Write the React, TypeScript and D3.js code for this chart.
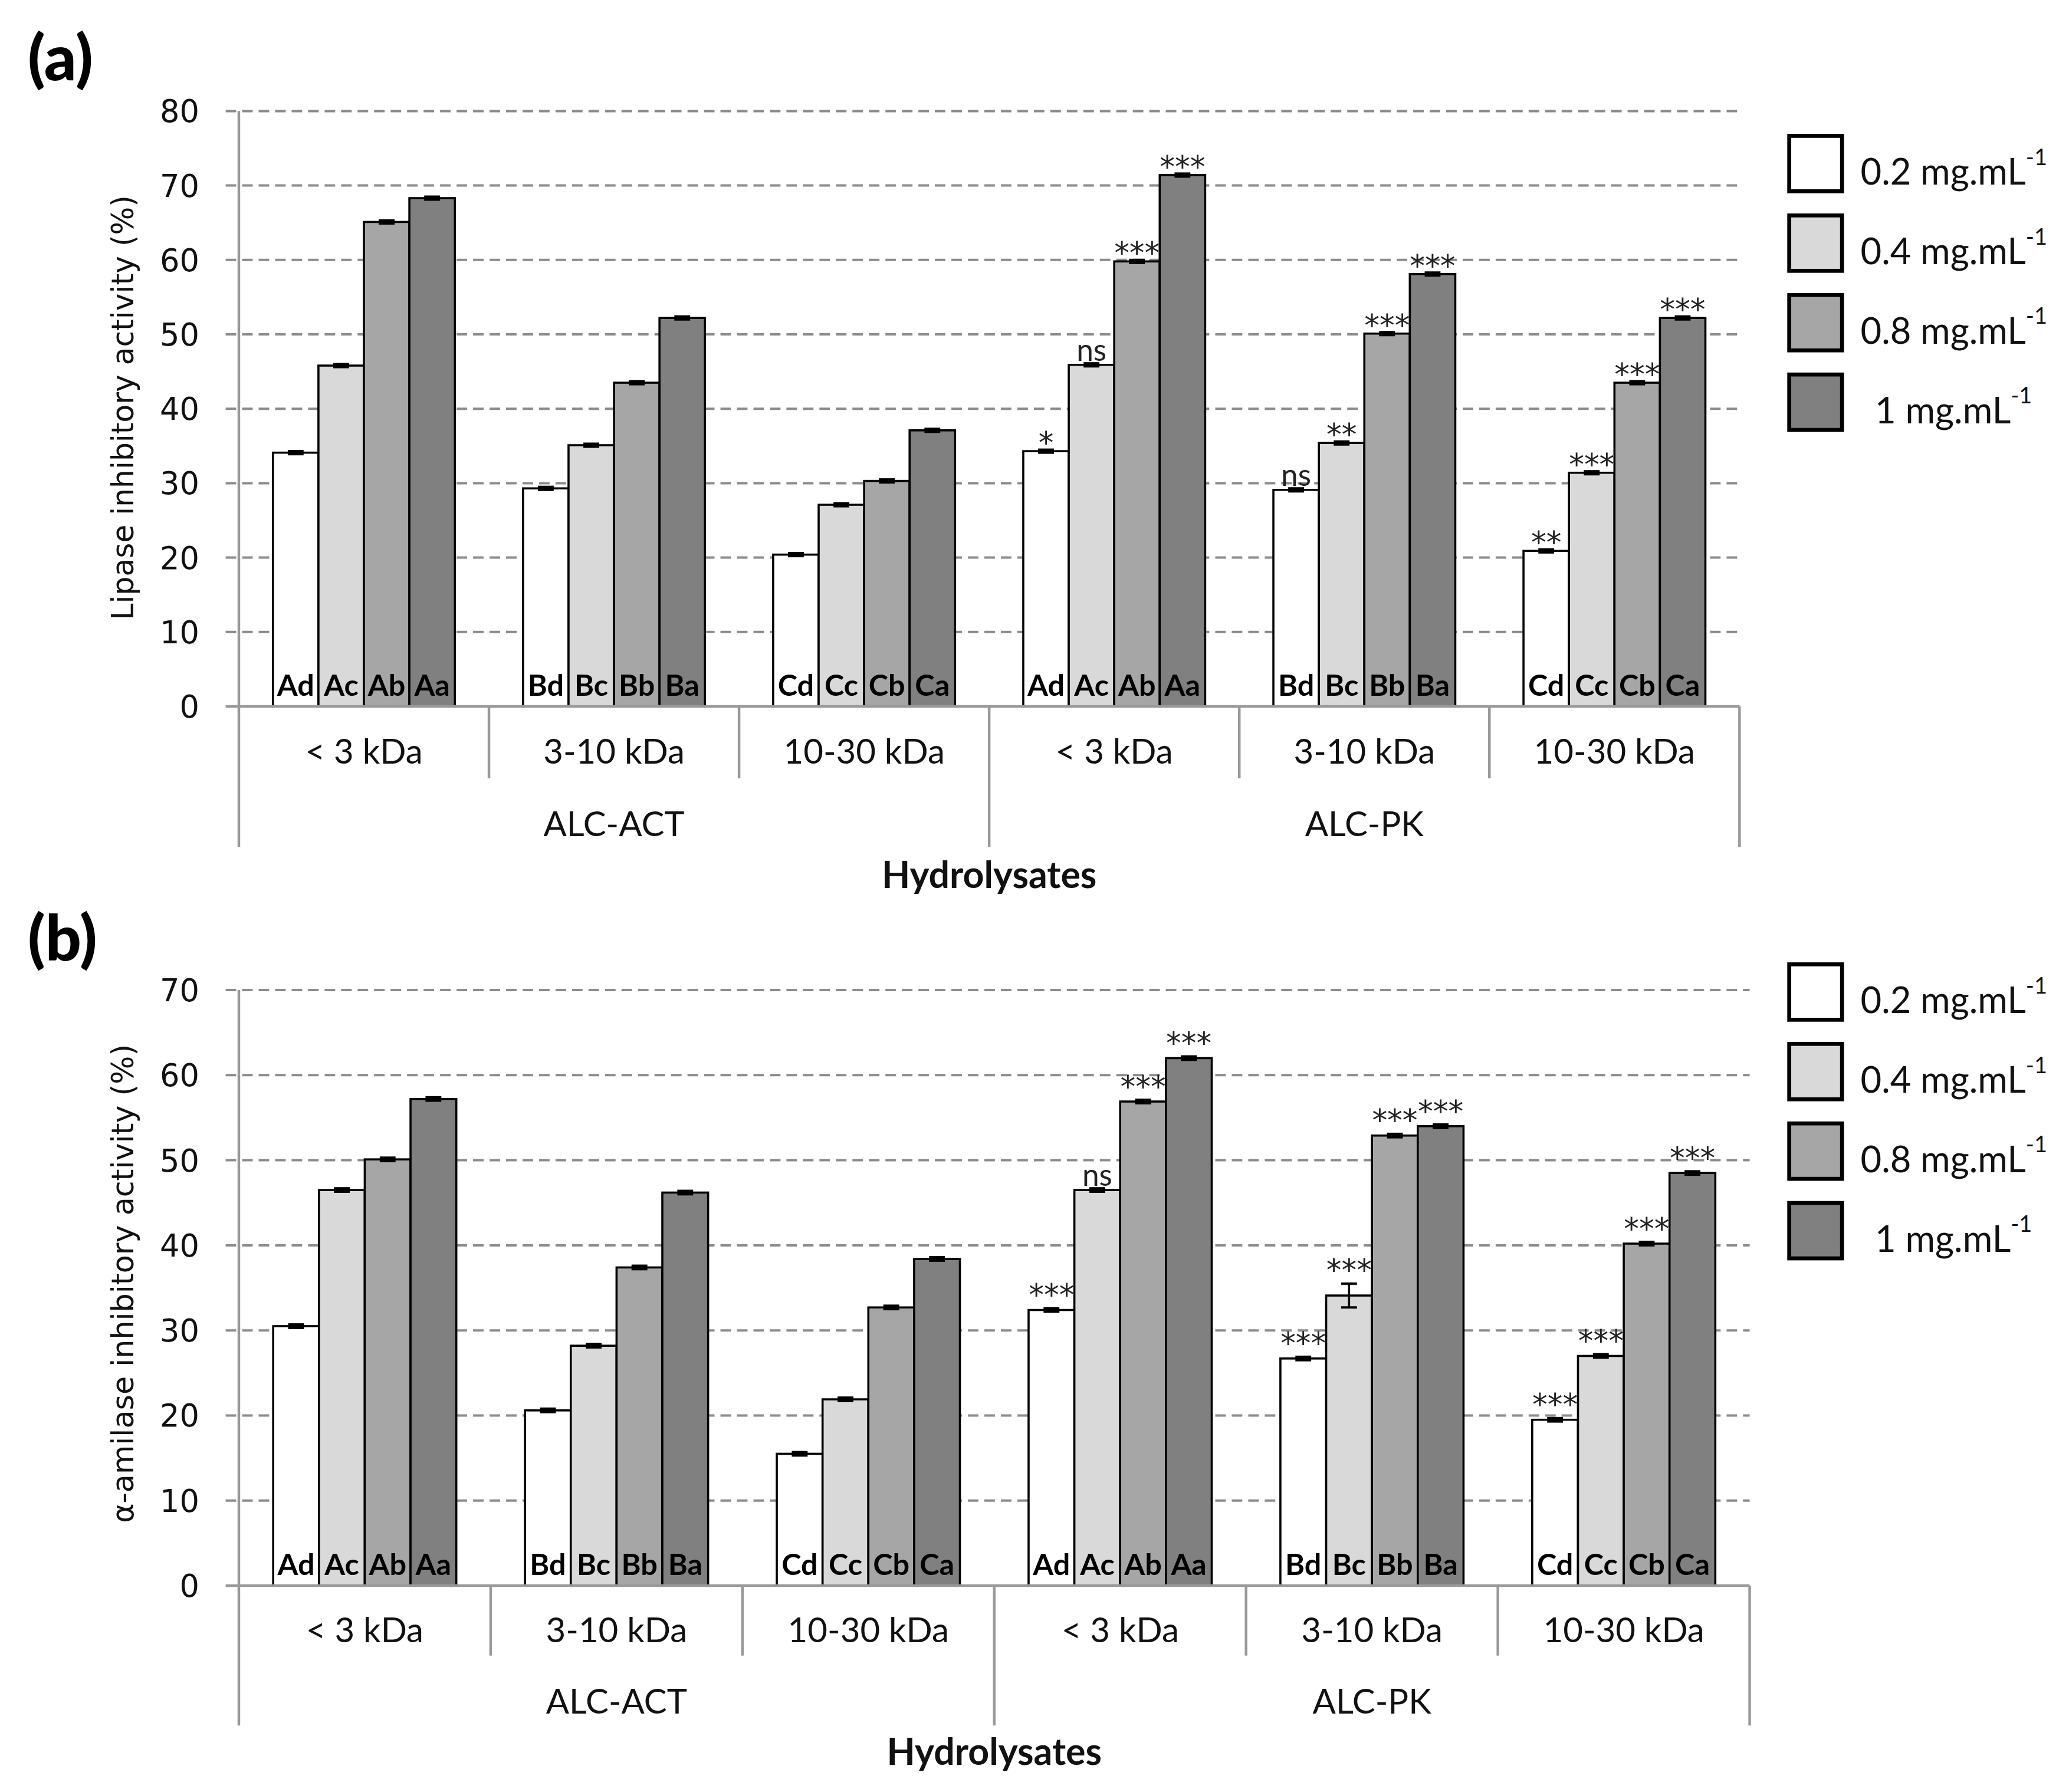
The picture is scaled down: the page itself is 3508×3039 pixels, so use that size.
import React from "react";
import * as d3 from "d3";

// ---------- data ----------
const categories = ["< 3 kDa", "3-10 kDa", "10-30 kDa", "< 3 kDa", "3-10 kDa", "10-30 kDa"];
const hydrolysates = ["ALC-ACT", "ALC-PK"];
const concentrations = ["0.2", "0.4", "0.8", "1"];
const seriesColors = ["#ffffff", "#d9d9d9", "#a6a6a6", "#808080"];

const barLetters = [
  ["Ad", "Ac", "Ab", "Aa"],
  ["Bd", "Bc", "Bb", "Ba"],
  ["Cd", "Cc", "Cb", "Ca"],
  ["Ad", "Ac", "Ab", "Aa"],
  ["Bd", "Bc", "Bb", "Ba"],
  ["Cd", "Cc", "Cb", "Ca"],
];

const lipaseTicks = [0, 10, 20, 30, 40, 50, 60, 70, 80];
const lipaseValues = [
  [34.1, 45.8, 65.1, 68.3],
  [29.3, 35.1, 43.5, 52.2],
  [20.4, 27.1, 30.3, 37.1],
  [34.3, 45.9, 59.8, 71.4],
  [29.1, 35.4, 50.1, 58.1],
  [20.9, 31.4, 43.5, 52.2],
];
const lipaseErrors = [
  [0.2, 0.2, 0.2, 0.2],
  [0.2, 0.2, 0.2, 0.2],
  [0.2, 0.2, 0.2, 0.2],
  [0.2, 0.2, 0.2, 0.2],
  [0.2, 0.2, 0.2, 0.2],
  [0.2, 0.2, 0.2, 0.2],
];
const lipaseSig = [
  ["", "", "", ""],
  ["", "", "", ""],
  ["", "", "", ""],
  ["*", "ns", "***", "***"],
  ["ns", "**", "***", "***"],
  ["**", "***", "***", "***"],
];

const amylaseTicks = [0, 10, 20, 30, 40, 50, 60, 70];
const amylaseValues = [
  [30.5, 46.5, 50.1, 57.2],
  [20.6, 28.2, 37.4, 46.2],
  [15.5, 21.9, 32.7, 38.4],
  [32.4, 46.5, 56.9, 62.0],
  [26.7, 34.1, 52.9, 54.0],
  [19.5, 27.0, 40.2, 48.5],
];
const amylaseErrors = [
  [0.2, 0.2, 0.2, 0.2],
  [0.2, 0.2, 0.2, 0.2],
  [0.2, 0.2, 0.2, 0.2],
  [0.2, 0.2, 0.2, 0.2],
  [0.2, 1.4, 0.2, 0.2],
  [0.2, 0.2, 0.2, 0.2],
];
const amylaseSig = [
  ["", "", "", ""],
  ["", "", "", ""],
  ["", "", "", ""],
  ["***", "ns", "***", "***"],
  ["***", "***", "***", "***"],
  ["***", "***", "***", "***"],
];

// ---------- styles ----------
const AXIS = "#999999";
const GRID = "#8c8c8c";
const TICK_FONT = "'DejaVu Sans', Verdana, sans-serif";
const LABEL_FONT = "Lato, 'Open Sans', sans-serif";

type PanelProps = {
  label: string;
  labelY: number;
  yTitle: string;
  yTitleLen: number;
  yTitleY: number;
  ticks: number[];
  values: number[][];
  errors: number[][];
  sig: string[][];
  starShift: number;
  yTop: number;
  yZero: number;
  xLeft: number;
  xRight: number;
  catY: number;
  groupY: number;
  hydroY: number;
  innerBottom: number;
  outerBottom: number;
  legendTop: number;
};

function Panel(p: PanelProps) {
  const yMax = p.ticks[p.ticks.length - 1];
  const y = d3.scaleLinear().domain([0, yMax]).range([p.yZero, p.yTop]);
  const xCat = d3
    .scaleBand<number>()
    .domain(d3.range(categories.length))
    .range([p.xLeft, p.xRight])
    .paddingInner(0)
    .paddingOuter(0);
  const xSer = d3
    .scaleBand<number>()
    .domain(d3.range(concentrations.length))
    .range([0, xCat.bandwidth()])
    .paddingInner(0)
    .paddingOuter(0.75);
  const bw = xSer.bandwidth();
  const tickLeft = p.xLeft - 10;

  return (
    <g>
      {/* panel label */}
      <text x={21} y={p.labelY} fontFamily={LABEL_FONT} fontWeight="900" fontSize={48} fill="#000">
        {p.label}
      </text>

      {/* gridlines */}
      {p.ticks
        .filter((t) => t > 0)
        .map((t) => (
          <line
            key={"g" + t}
            x1={tickLeft}
            x2={p.xRight}
            y1={y(t)}
            y2={y(t)}
            stroke={GRID}
            strokeWidth={1.8}
            strokeDasharray="8,4.5"
          />
        ))}

      {/* tick labels */}
      {p.ticks.map((t) => (
        <text
          key={"t" + t}
          x={151}
          y={y(t)}
          dy="0.36em"
          textAnchor="end"
          fontFamily={TICK_FONT}
          fontSize={23.5}
          fill="#111"
        >
          {t}
        </text>
      ))}

      {/* y title */}
      <text
        transform={`translate(101,${p.yTitleY}) rotate(-90)`}
        textAnchor="middle"
        fontFamily={TICK_FONT}
        fontSize={23}
        textLength={p.yTitleLen}
        lengthAdjust="spacingAndGlyphs"
        fill="#111"
      >
        {p.yTitle}
      </text>

      {/* bars */}
      {p.values.map((row, ci) => (
        <g key={"c" + ci} transform={`translate(${xCat(ci)},0)`}>
          {row.map((v, si) => {
            const x0 = xSer(si) as number;
            const top = y(v);
            const eTop = y(v + p.errors[ci][si]);
            const eBot = y(v - p.errors[ci][si]);
            const cx = x0 + bw / 2;
            const s = p.sig[ci][si];
            const isStar = s.indexOf("*") >= 0;
            return (
              <g key={"b" + si}>
                <rect
                  x={x0}
                  y={top}
                  width={bw}
                  height={p.yZero - top}
                  fill={seriesColors[si]}
                  stroke="#000"
                  strokeWidth={1.6}
                />
                <line x1={cx} x2={cx} y1={eTop} y2={eBot} stroke="#000" strokeWidth={1.6} />
                <line x1={cx - 6} x2={cx + 6} y1={eTop} y2={eTop} stroke="#000" strokeWidth={1.8} />
                <line x1={cx - 6} x2={cx + 6} y1={eBot} y2={eBot} stroke="#000" strokeWidth={1.8} />
                <text
                  x={cx}
                  y={p.yZero - 8}
                  textAnchor="middle"
                  fontFamily={LABEL_FONT}
                  fontWeight="bold"
                  fontSize={22.5}
                  fill="#000"
                >
                  {barLetters[ci][si]}
                </text>
                {s && (
                  <text
                    x={cx}
                    y={isStar ? eTop + p.starShift : eTop - 2}
                    textAnchor="middle"
                    fontFamily={isStar ? TICK_FONT : LABEL_FONT}
                    fontSize={23}
                    fill="#222"
                  >
                    {s}
                  </text>
                )}
              </g>
            );
          })}
        </g>
      ))}

      {/* axes */}
      <line x1={tickLeft} x2={p.xRight} y1={p.yZero} y2={p.yZero} stroke={AXIS} strokeWidth={2} />
      <line x1={p.xLeft} x2={p.xLeft} y1={p.yTop} y2={p.outerBottom} stroke={AXIS} strokeWidth={2} />
      {d3.range(1, categories.length + 1).map((i) => {
        const x = i === categories.length ? p.xRight : (xCat(i) as number);
        const outer = i === 3 || i === categories.length;
        return (
          <line
            key={"s" + i}
            x1={x}
            x2={x}
            y1={p.yZero}
            y2={outer ? p.outerBottom : p.innerBottom}
            stroke={AXIS}
            strokeWidth={2}
          />
        );
      })}

      {/* category labels */}
      {categories.map((c, i) => (
        <text
          key={"cl" + i}
          x={(xCat(i) as number) + xCat.bandwidth() / 2}
          y={p.catY}
          textAnchor="middle"
          fontFamily={LABEL_FONT}
          fontSize={26}
          fill="#111"
        >
          {c}
        </text>
      ))}
      {hydrolysates.map((h, i) => (
        <text
          key={"h" + i}
          x={(xCat(i * 3) as number) + (xCat.bandwidth() * 3) / 2}
          y={p.groupY}
          textAnchor="middle"
          fontFamily={LABEL_FONT}
          fontSize={26}
          fill="#111"
        >
          {h}
        </text>
      ))}
      <text
        x={(p.xLeft + p.xRight) / 2}
        y={p.hydroY}
        textAnchor="middle"
        fontFamily={LABEL_FONT}
        fontWeight="bold"
        fontSize={28}
        fill="#111"
      >
        Hydrolysates
      </text>

      {/* legend */}
      {concentrations.map((c, i) => {
        const top = p.legendTop + i * 60.3;
        return (
          <g key={"l" + i}>
            <rect x={1356} y={top} width={40} height={42} fill={seriesColors[i]} stroke="#000" strokeWidth={3} />
            <text
              x={c === "1" ? 1421 : 1410}
              y={top + 37}
              fontFamily={LABEL_FONT}
              fontSize={27.5}
              fill="#111"
            >
              {c} mg.mL
              <tspan fontSize={17} dy={-15}>
                -1
              </tspan>
            </text>
          </g>
        );
      })}
    </g>
  );
}

export default function App() {
  return (
    <svg
      width={3508}
      height={3039}
      viewBox="0 0 1568 1358.4"
      style={{ position: "absolute", left: 0, top: 0, display: "block", background: "#fff" }}
    >
      <rect x={0} y={0} width={1568} height={1358.4} fill="#fff" />
      <Panel
        label="(a)"
        labelY={61}
        yTitle="Lipase inhibitory activity (%)"
        yTitleLen={322}
        yTitleY={309}
        ticks={lipaseTicks}
        values={lipaseValues}
        errors={lipaseErrors}
        sig={lipaseSig}
        starShift={3}
        yTop={84.2}
        yZero={535.5}
        xLeft={181}
        xRight={1318.3}
        catY={579}
        groupY={634}
        hydroY={673}
        innerBottom={590}
        outerBottom={642}
        legendTop={103}
      />
      <Panel
        label="(b)"
        labelY={728}
        yTitle="α-amilase inhibitory activity (%)"
        yTitleLen={363}
        yTitleY={973}
        ticks={amylaseTicks}
        values={amylaseValues}
        errors={amylaseErrors}
        sig={amylaseSig}
        starShift={-2}
        yTop={750.5}
        yZero={1202}
        xLeft={181}
        xRight={1326}
        catY={1245}
        groupY={1299}
        hydroY={1338}
        innerBottom={1255}
        outerBottom={1308}
        legendTop={731}
      />
    </svg>
  );
}
